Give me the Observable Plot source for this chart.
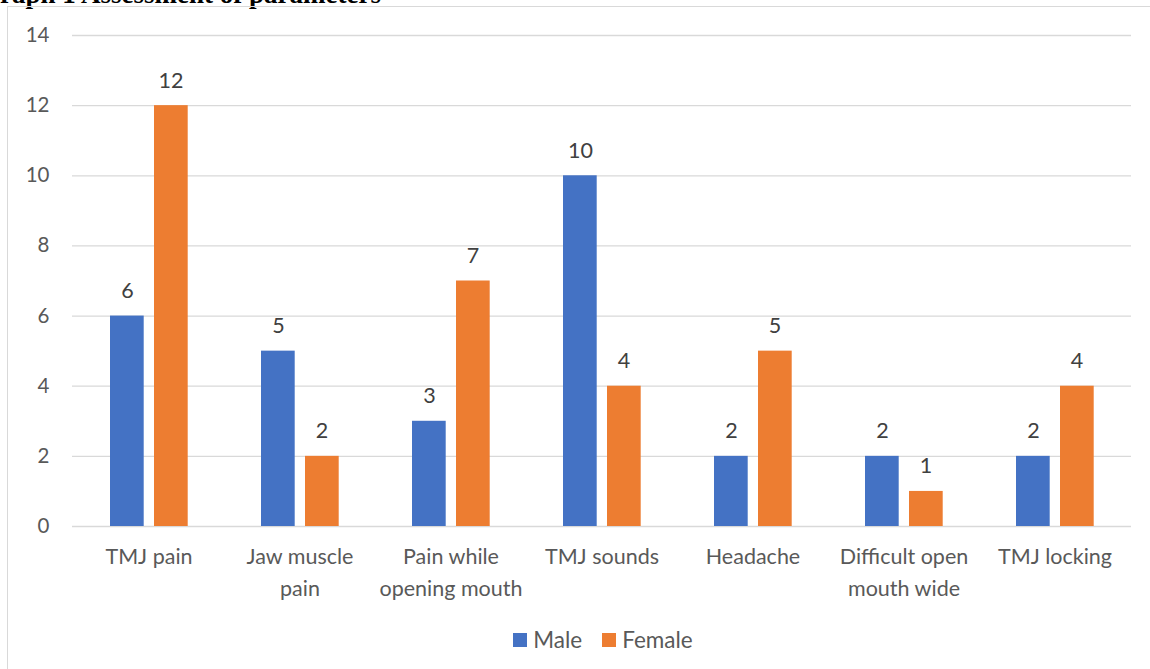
<!DOCTYPE html>
<html>
<head>
<meta charset="utf-8">
<script src="https://cdn.jsdelivr.net/npm/d3@7"></script>
<script src="https://cdn.jsdelivr.net/npm/@observablehq/plot@0.6"></script>
<style>
  html, body { margin: 0; padding: 0; background: #fff; width: 1150px; height: 669px; overflow: hidden; }
  #title { position: absolute; left: -21px; top: -19px; font-family: "Liberation Serif", serif; font-weight: bold; font-size: 27px; line-height: 27px; color: #000; white-space: nowrap; }
  #frame { position: absolute; left: 7px; top: 6px; width: 2000px; height: 2000px; border: 1px solid #d9d9d9; box-sizing: border-box; }
  #chart { position: absolute; left: 0; top: 0; }
  #legend { position: absolute; left: 28px; top: 626px; width: 1150px; display: flex; justify-content: center; align-items: center; font-family: Lato, sans-serif; font-size: 22.5px; color: #595959; }
  .item { display: flex; align-items: center; margin: 0 10px; }
  .sw { width: 14px; height: 14px; margin-right: 6px; }
</style>
</head>
<body>
<div id="title">Graph 1 Assessment of parameters</div>
<div id="frame"></div>
<div id="chart"></div>
<div id="legend"></div>
<script>
const categories = ["TMJ pain", "Jaw muscle pain", "Pain while opening mouth", "TMJ sounds", "Headache", "Difficult open mouth wide", "TMJ locking"];
const tickLabels = ["TMJ pain", "Jaw muscle\npain", "Pain while\nopening mouth", "TMJ sounds", "Headache", "Difficult open\nmouth wide", "TMJ locking"];
const male = [6, 5, 3, 10, 2, 2, 2];
const female = [12, 2, 7, 4, 5, 1, 4];
const yTicks = [0, 2, 4, 6, 8, 10, 12, 14];
const seriesNames = ["Male", "Female"];
const colors = ["#4472C4", "#ED7D31"];

const maleRows = categories.map((c, i) => ({category: c, value: male[i]}));
const femaleRows = categories.map((c, i) => ({category: c, value: female[i]}));
const labelRows = categories.map((c, i) => ({category: c, label: tickLabels[i]}));

const chart = Plot.plot({
  width: 1150,
  height: 620,
  marginLeft: 72,
  marginRight: 19,
  marginTop: 35,
  marginBottom: 94,
  style: {fontFamily: "Lato, sans-serif", color: "#595959", background: "transparent", overflow: "visible"},
  x: {domain: categories, padding: 0, axis: null},
  y: {domain: [0, 14], axis: null},
  marks: [
    Plot.ruleY(yTicks, {stroke: "#d9d9d9", strokeWidth: 1.3}),
    Plot.axisY({ticks: yTicks, tickSize: 0, tickPadding: 23, fontSize: 20.5, label: null, fill: "#595959"}),
    Plot.barY(maleRows, {x: "category", y: "value", fill: colors[0], insetLeft: 37, insetRight: 80.3}),
    Plot.barY(femaleRows, {x: "category", y: "value", fill: colors[1], insetLeft: 81, insetRight: 36.3}),
    Plot.text(maleRows, {x: "category", y: "value", text: d => String(d.value), dx: -21.6, dy: -25, fontSize: 21.5, fill: "#404040"}),
    Plot.text(femaleRows, {x: "category", y: "value", text: d => String(d.value), dx: 21.9, dy: -25, fontSize: 21.5, fill: "#404040"}),
    Plot.text(labelRows, {x: "category", y: () => 0, text: "label", lineAnchor: "top", dy: 15, fontSize: 21.5, lineHeight: 1.49, fill: "#595959"})
  ]
});
document.getElementById("chart").appendChild(chart);

const legend = document.getElementById("legend");
seriesNames.forEach((name, i) => {
  const item = document.createElement("div");
  item.className = "item";
  const sw = document.createElement("div");
  sw.className = "sw";
  sw.style.background = colors[i];
  const lab = document.createElement("span");
  lab.textContent = name;
  item.appendChild(sw);
  item.appendChild(lab);
  legend.appendChild(item);
});
</script>
</body>
</html>
